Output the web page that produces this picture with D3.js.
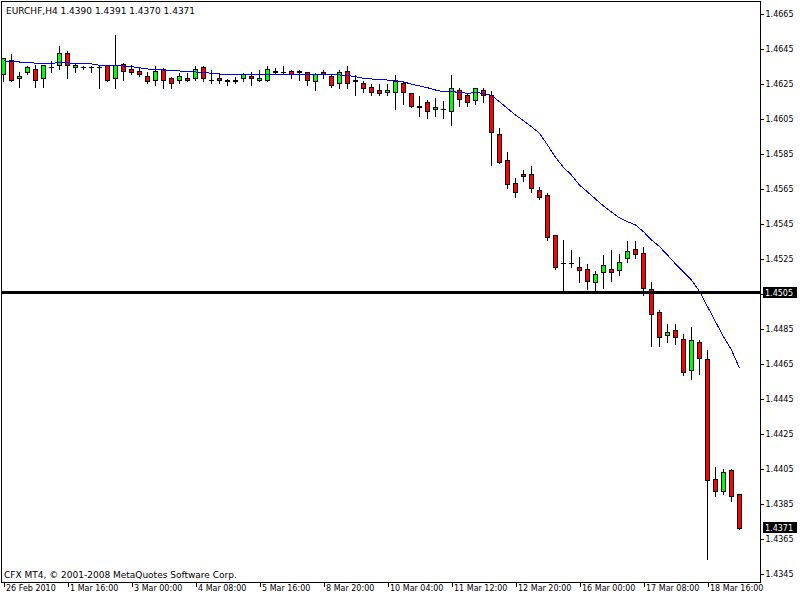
<!DOCTYPE html>
<html>
<head>
<meta charset="utf-8">
<script src="https://cdn.jsdelivr.net/npm/d3@7/dist/d3.min.js"></script>
<style>
html,body{margin:0;padding:0;background:#fff;}
svg{display:block;}
text{font-family:"DejaVu Sans",Verdana,sans-serif;font-size:8px;fill:#000;}
</style>
</head>
<body>
<div id="chart"></div>
<script>
// ---- data (EURCHF, H4) ----
const opens  = [1.4630,1.4638,1.4628,1.4631,1.4633,1.4628,1.4634,1.4635,1.4642,1.4634,
                1.4634,1.4634,1.4634,1.4635,1.4628,1.4636,1.4633,1.4632,1.4629,1.4627,
                1.4633,1.4628,1.4627,1.4628,1.4628,1.4634,1.4627,1.4628,1.4626,1.4626,
                1.4628,1.4629,1.4627,1.4627,1.4631,1.4631,1.4632,1.4631,1.4631,1.4626,
                1.4631,1.4629,1.4625,1.4632,1.4627,1.4625,1.4623,1.4621,1.4620,1.4620,
                1.4625,1.4619,1.4611,1.4614,1.4610,1.4610,1.4609,1.4621,1.4618,1.4615,
                1.4621,1.4618,1.4596,1.4581,1.4568,1.4573,1.4573,1.4564,1.4561,1.4538,
                1.4522,1.4522,1.4520,1.4519,1.4511,1.4517,1.4519,1.4518,1.4525,1.4530,
                1.4528,1.4507,1.4494,1.4481,1.4484,1.4479,1.4461,1.4477,1.4467,1.4399,
                1.4392,1.4404,1.4390];
const highs  = [1.4640,1.4642,1.4632,1.4635,1.4636,1.4636,1.4638,1.4647,1.4644,1.4637,
                1.4635,1.4635,1.4636,1.4636,1.4653,1.4637,1.4636,1.4634,1.4632,1.4635,
                1.4634,1.4629,1.4631,1.4631,1.4635,1.4635,1.4633,1.4631,1.4628,1.4629,
                1.4631,1.4632,1.4633,1.4635,1.4634,1.4635,1.4633,1.4633,1.4632,1.4631,
                1.4633,1.4630,1.4633,1.4635,1.4630,1.4627,1.4625,1.4625,1.4625,1.4630,
                1.4627,1.4619,1.4618,1.4616,1.4617,1.4615,1.4630,1.4623,1.4619,1.4623,
                1.4623,1.4621,1.4600,1.4586,1.4571,1.4576,1.4578,1.4566,1.4563,1.4539,
                1.4536,1.4530,1.4526,1.4522,1.4518,1.4527,1.4530,1.4528,1.4535,1.4535,
                1.4532,1.4512,1.4496,1.4488,1.4488,1.4482,1.4486,1.4479,1.4473,1.4406,
                1.4405,1.4405,1.4391];
const lows   = [1.4626,1.4626,1.4623,1.4630,1.4623,1.4623,1.4631,1.4633,1.4628,1.4631,
                1.4633,1.4631,1.4622,1.4626,1.4622,1.4627,1.4630,1.4629,1.4625,1.4624,
                1.4622,1.4622,1.4625,1.4626,1.4627,1.4626,1.4625,1.4625,1.4624,1.4625,
                1.4626,1.4624,1.4626,1.4626,1.4630,1.4630,1.4628,1.4627,1.4624,1.4621,
                1.4628,1.4623,1.4622,1.4622,1.4618,1.4620,1.4618,1.4618,1.4618,1.4610,
                1.4613,1.4611,1.4606,1.4605,1.4606,1.4605,1.4601,1.4612,1.4612,1.4613,
                1.4614,1.4578,1.4579,1.4565,1.4560,1.4569,1.4563,1.4559,1.4535,1.4519,
                1.4505,1.4520,1.4511,1.4507,1.4505,1.4508,1.4512,1.4515,1.4523,1.4525,
                1.4504,1.4475,1.4475,1.4477,1.4476,1.4458,1.4456,1.4459,1.4353,1.4389,
                1.4390,1.4386,1.4370];
const closes = [1.4639,1.4627,1.4629,1.4634,1.4627,1.4635,1.4634,1.4642,1.4635,1.4635,
                1.4634,1.4634,1.4634,1.4627,1.4635,1.4632,1.4631,1.4630,1.4626,1.4632,
                1.4627,1.4625,1.4629,1.4627,1.4633,1.4628,1.4627,1.4627,1.4627,1.4627,
                1.4630,1.4628,1.4628,1.4633,1.4632,1.4631,1.4630,1.4632,1.4627,1.4630,
                1.4630,1.4624,1.4631,1.4625,1.4626,1.4622,1.4620,1.4619,1.4621,1.4626,
                1.4620,1.4612,1.4612,1.4609,1.4611,1.4610,1.4622,1.4616,1.4614,1.4622,
                1.4618,1.4597,1.4580,1.4567,1.4563,1.4572,1.4565,1.4560,1.4537,1.4520,
                1.4522,1.4522,1.4518,1.4512,1.4516,1.4521,1.4517,1.4523,1.4529,1.4527,
                1.4508,1.4493,1.4480,1.4483,1.4480,1.4460,1.4478,1.4468,1.4398,1.4392,
                1.4403,1.4389,1.4371];
const maValues = [1.46377,1.46372,1.4637,1.4637,1.46363,1.4636,1.46363,1.46366,1.46366,1.46359,
                  1.46359,1.46359,1.46351,1.46349,1.46349,1.46347,1.46343,1.46337,1.4633,1.46328,
                  1.46324,1.46319,1.46319,1.46313,1.46313,1.4631,1.46306,1.46301,1.46301,1.463,
                  1.46299,1.46296,1.46296,1.46299,1.463,1.463,1.463,1.463,1.463,1.46299,
                  1.46297,1.46296,1.46296,1.46293,1.46286,1.46277,1.46273,1.4627,1.46267,1.46263,
                  1.46257,1.46243,1.46233,1.46223,1.4621,1.46199,1.462,1.46197,1.46191,1.46195,
                  1.46191,1.46179,1.46143,1.46105,1.46067,1.46035,1.46,1.45963,1.45896,1.45825,
                  1.45768,1.45724,1.45667,1.45627,1.45587,1.45547,1.45513,1.45479,1.45457,1.45439,
                  1.454,1.45353,1.45315,1.45267,1.45216,1.4517,1.45124,1.45059,1.44972,1.44886,
                  1.448,1.44724,1.4462];
const timeLabels = ["26 Feb 2010","1 Mar 16:00","3 Mar 00:00","4 Mar 08:00","5 Mar 16:00","8 Mar 20:00",
                    "10 Mar 04:00","11 Mar 12:00","12 Mar 20:00","16 Mar 00:00","17 Mar 08:00","18 Mar 16:00"];
const labelEveryBars = 8;
const priceTicks = [1.4665,1.4645,1.4625,1.4605,1.4585,1.4565,1.4545,1.4525,1.4505,
                    1.4485,1.4465,1.4445,1.4425,1.4405,1.4385,1.4365,1.4345];
const levelLine = 1.4505;
const symbolTitle = "EURCHF,H4";
const footerText = "CFX MT4, \u00A9 2001-2008 MetaQuotes Software Corp.";

// ---- layout ----
const W = 800, H = 600;
const plot = {l: 1, t: 1, r: 760, b: 582};
const n = opens.length;

const svg = d3.select("#chart").append("svg").attr("width", W).attr("height", H);
svg.append("rect").attr("width", W).attr("height", H).attr("fill", "#fff");

const x = d3.scaleLinear().domain([0, n - 1]).range([3.5, 3.5 + 8 * (n - 1)]);
const y = d3.scaleLinear().domain([1.4665, 1.4345]).range([13, 573]);
const py = v => Math.round(y(v)) + 0.5;

svg.append("clipPath").attr("id", "clip").append("rect")
  .attr("x", plot.l).attr("y", plot.t).attr("width", plot.r - plot.l).attr("height", plot.b - plot.t);
const g = svg.append("g").attr("clip-path", "url(#clip)");

const bars = d3.range(n).map(i => ({i, o: opens[i], h: highs[i], l: lows[i], c: closes[i]}));

// wicks
g.selectAll("line.wick").data(bars).join("line").attr("class", "wick")
  .attr("x1", d => x(d.i)).attr("x2", d => x(d.i))
  .attr("y1", d => py(d.h)).attr("y2", d => py(d.l) + 0.5)
  .attr("stroke", "#000").attr("stroke-width", 1).attr("shape-rendering", "crispEdges");

// bodies
const bodies = bars.filter(d => Math.abs(py(d.o) - py(d.c)) >= 1);
const dojis = bars.filter(d => Math.abs(py(d.o) - py(d.c)) < 1);
g.selectAll("rect.body").data(bodies).join("rect").attr("class", "body")
  .attr("x", d => x(d.i) - 2).attr("width", 4)
  .attr("y", d => Math.min(py(d.o), py(d.c)))
  .attr("height", d => Math.abs(py(d.o) - py(d.c)))
  .attr("fill", d => d.c > d.o ? "#00ff00" : "#ff0000")
  .attr("stroke", "#000").attr("stroke-width", 1).attr("shape-rendering", "crispEdges");
g.selectAll("line.doji").data(dojis).join("line").attr("class", "doji")
  .attr("x1", d => x(d.i) - 2.5).attr("x2", d => x(d.i) + 2.5)
  .attr("y1", d => py(d.c)).attr("y2", d => py(d.c))
  .attr("stroke", "#000").attr("stroke-width", 1).attr("shape-rendering", "crispEdges");

// moving average
g.append("path").datum(maValues)
  .attr("d", d3.line().x((d, i) => x(i)).y(d => y(d)))
  .attr("fill", "none").attr("stroke", "#0000ff").attr("stroke-width", 1)
  .attr("shape-rendering", "crispEdges");

// horizontal level
g.append("line").attr("x1", plot.l).attr("x2", plot.r)
  .attr("y1", Math.round(y(levelLine)) - 0.5).attr("y2", Math.round(y(levelLine)) - 0.5)
  .attr("stroke", "#000").attr("stroke-width", 3).attr("shape-rendering", "crispEdges");

// frame
svg.append("rect").attr("x", plot.l + 0.5).attr("y", plot.t + 0.5)
  .attr("width", plot.r - plot.l).attr("height", plot.b - plot.t)
  .attr("fill", "none").attr("stroke", "#000").attr("shape-rendering", "crispEdges");

// right price axis
const yAxis = d3.axisRight(y).tickValues(priceTicks).tickSize(3).tickPadding(2)
  .tickFormat(d3.format(".4f"));
const ya = svg.append("g").attr("transform", `translate(${plot.r + 0.5},0.5)`).call(yAxis);
ya.select(".domain").remove();
ya.selectAll("line").attr("stroke", "#000").attr("shape-rendering", "crispEdges");
ya.selectAll("text").attr("font-family", "DejaVu Sans").attr("font-size", 8).attr("fill", "#000");

// bottom time axis
const tickIdx = timeLabels.map((t, k) => k * labelEveryBars);
const xAxis = d3.axisBottom(x).tickValues(tickIdx).tickSize(4)
  .tickFormat((d, k) => timeLabels[k]);
const xa = svg.append("g").attr("transform", `translate(0,${plot.b + 0.5})`).call(xAxis);
xa.select(".domain").remove();
xa.selectAll("line").attr("stroke", "#000").attr("shape-rendering", "crispEdges");
xa.selectAll("text").attr("text-anchor", "start").attr("x", 2).attr("y", 3).attr("dy", "0.71em")
  .attr("font-family", "DejaVu Sans").attr("font-size", 8).attr("fill", "#000");

// price boxes
function priceBox(v) {
  const cy = Math.round(y(v));
  svg.append("rect").attr("x", 763).attr("y", cy - 6).attr("width", 34).attr("height", 11).attr("fill", "#000");
  svg.append("text").attr("x", 765).attr("y", cy).attr("dy", "0.35em").style("fill", "#fff")
    .text(d3.format(".4f")(v));
}
priceBox(levelLine);
priceBox(closes[n - 1]);

// title & footer
svg.append("text").attr("x", 6).attr("y", 14).style("font-size", "9px")
  .text(symbolTitle + "  " + [opens[n-1], highs[n-1], lows[n-1], closes[n-1]].map(d3.format(".4f")).join(" "));
svg.append("text").attr("x", 4).attr("y", 578).style("font-size", "9px").text(footerText);
</script>
</body>
</html>
